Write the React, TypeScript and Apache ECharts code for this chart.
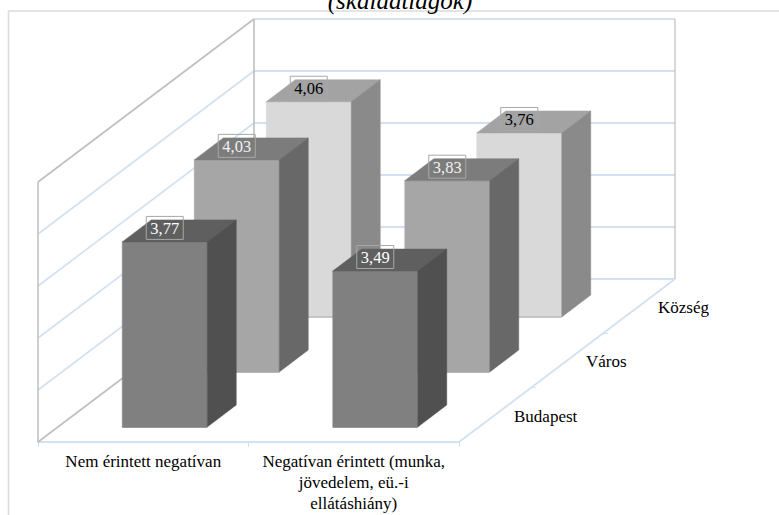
import React, { useEffect, useRef } from "react";
import * as echarts from "echarts";

const categories = ["Nem érintett negatívan", "Negatívan érintett (munka,\njövedelem, eü.-i\nellátáshiány)"];
const depthLabels = ["Budapest", "Város", "Község"];
const budapest = [3.77, 3.49];
const varos = [4.03, 3.83];
const kozseg = [4.06, 3.76];
const gridTicks = [2, 2.5, 3, 3.5, 4, 4.5];

const FONT = '"Liberation Serif", "Times New Roman", serif';
const WALL_DX = 216;
const WALL_DY = -163;
const BLUE = "#d3e0f1";
const GRAY = "#bfbfbf";
const ROW_STEP_X = 72;
const ROW_STEP_Y = -55;
const ROW_START_X = 21.5;
const ROW_START_Y = -15;
const BAR_W = 85;
const SIDE_DX = 29;
const SIDE_DY = -22;
const TOP_LIFT = 1;
const rowColors = [
  { front: "#808080", top: "#5f5f5f", side: "#505050", text: "#ffffff", base: "#808080" },
  { front: "#a6a6a6", top: "#7c7c7c", side: "#686868", text: "#f2f2f2", base: "#a6a6a6" },
  { front: "#d9d9d9", top: "#a3a3a3", side: "#8a8a8a", text: "#000000", base: "#b8b8b8" },
];

const poly = (points: number[][], fill: string) => ({
  type: "polygon",
  shape: { points },
  style: { fill, stroke: fill, lineWidth: 0.5 },
});

const line = (a: number[], b: number[], stroke: string, lineWidth = 1.6) => ({
  type: "line",
  shape: { x1: a[0], y1: a[1], x2: b[0], y2: b[1] },
  style: { stroke, lineWidth },
});

function renderWall(_: any, api: any) {
  const v = api.value(0);
  const [x0, y] = api.coord([0, v]);
  const size = api.size([1, 0])[0];
  const left = x0 - size / 2;
  const right = left + size * categories.length;
  const edge = v === gridTicks[0] || v === gridTicks[gridTicks.length - 1];
  const bx = left + WALL_DX;
  const by = y + WALL_DY;
  return {
    type: "group",
    children: [
      line([left, y], [bx, by], edge ? GRAY : BLUE),
      line([bx, by], [right + WALL_DX, by], BLUE, 1.8),
    ],
  };
}

function renderFrame(_: any, api: any) {
  const [x0, yb] = api.coord([0, gridTicks[0]]);
  const [, yt] = api.coord([0, gridTicks[gridTicks.length - 1]]);
  const size = api.size([1, 0])[0];
  const left = x0 - size / 2;
  const right = left + size * categories.length;
  const children: any[] = [
    line([left, yb], [left, yt], GRAY, 1.5),
    line([left + WALL_DX, yb + WALL_DY], [left + WALL_DX, yt + WALL_DY], GRAY, 1.6),
    line([right + WALL_DX, yb + WALL_DY], [right + WALL_DX, yt + WALL_DY], GRAY, 1.2),
    line([right, yb], [right + WALL_DX, yb + WALL_DY], BLUE, 1.8),
  ];
  for (let i = 1; i < depthLabels.length; i++) {
    const tx = right + (WALL_DX * i) / depthLabels.length;
    const ty = yb + (WALL_DY * i) / depthLabels.length;
    children.push(line([tx, ty], [tx + 5, ty], BLUE, 1));
  }
  depthLabels.forEach((name, i) => {
    children.push({
      type: "text",
      x: right + 55 + 72 * i,
      y: yb - 26 - 54.5 * i,
      style: { text: name, font: `17px ${FONT}`, fill: "#000", textAlign: "left", textVerticalAlign: "middle" },
    });
  });
  return { type: "group", children };
}

function renderBar(_: any, api: any) {
  const cat = api.value(0);
  const row = api.value(1);
  const val = api.value(2);
  const dx = ROW_START_X + ROW_STEP_X * row;
  const dy = ROW_START_Y + ROW_STEP_Y * row;
  const [cx, yTop] = api.coord([cat, val]);
  const [, yBase] = api.coord([cat, gridTicks[0]]);
  const x1 = cx + dx - BAR_W / 2;
  const x2 = x1 + BAR_W;
  const t = yTop + dy - TOP_LIFT;
  const b = yBase + dy;
  const c = rowColors[row];
  return {
    type: "group",
    children: [
      poly([[x1, t], [x2, t], [x2, b], [x1, b]], c.front),
      poly([[x1, t], [x2, t], [x2 + SIDE_DX, t + SIDE_DY], [x1 + SIDE_DX, t + SIDE_DY]], c.top),
      poly([[x2, t], [x2 + SIDE_DX, t + SIDE_DY], [x2 + SIDE_DX, b + SIDE_DY], [x2, b]], c.side),
      line([x1, b], [x2, b], c.base, 1.5),
      {
        type: "rect",
        shape: { x: x1 + (BAR_W - 37) / 2, y: t - 25.5, width: 37, height: 23 },
        style: { fill: "none", stroke: "#a8a8a8", lineWidth: 1 },
      },
      {
        type: "text",
        x: x1 + BAR_W / 2,
        y: t - 13.5,
        style: {
          text: val.toFixed(2).replace(".", ","),
          font: `16.5px ${FONT}`,
          fill: c.text,
          textAlign: "center",
          textVerticalAlign: "middle",
        },
      },
    ],
  };
}

const rowData = (vals: number[], row: number) => vals.map((v, i) => [i, row, v]);

export default function App() {
  const ref = useRef<HTMLDivElement>(null);
  useEffect(() => {
    const chart = echarts.init(ref.current!, null, { renderer: "svg" });
    const barSeries = [kozseg, varos, budapest].map((vals, i) => ({
      type: "custom",
      name: depthLabels[2 - i],
      renderItem: renderBar,
      data: rowData(vals, 2 - i),
      encode: { x: 0, y: 2 },
      clip: false,
      z: 10 + i,
    }));
    chart.setOption({
      animation: false,
      backgroundColor: "#fff",
      title: {
        text: "(skálaátlagok)",
        left: 395,
        top: -17,
        textAlign: "center",
        textStyle: { fontFamily: FONT, fontSize: 25, fontStyle: "italic", fontWeight: "normal", color: "#000" },
      },
      grid: { left: 38, right: 320, top: 182, bottom: 73 },
      xAxis: {
        type: "category",
        data: categories,
        axisLine: { lineStyle: { color: BLUE, width: 1.8 } },
        axisTick: { show: true, length: 5, lineStyle: { color: BLUE } },
        axisLabel: { fontFamily: FONT, fontSize: 17, color: "#000", lineHeight: 21, margin: 9, interval: 0 },
      },
      yAxis: { type: "value", min: 2, max: 4.5, interval: 0.5, show: false, splitLine: { show: false } },
      graphic: [
        {
          type: "polyline",
          shape: { points: [[8.5, 515], [8.5, 11], [779, 11]] },
          style: { fill: "none", stroke: "#dcdcdc", lineWidth: 1.6 },
          silent: true,
        },
      ],
      series: [
        { type: "custom", renderItem: renderWall, data: gridTicks.map((v) => [v]), encode: { y: 0 }, clip: false, z: 2 },
        { type: "custom", renderItem: renderFrame, data: [[gridTicks[0]]], encode: { y: 0 }, clip: false, z: 3 },
        ...barSeries,
      ],
    });
    return () => chart.dispose();
  }, []);
  return <div ref={ref} style={{ position: "fixed", left: 0, top: 0, width: 779, height: 515 }} />;
}
